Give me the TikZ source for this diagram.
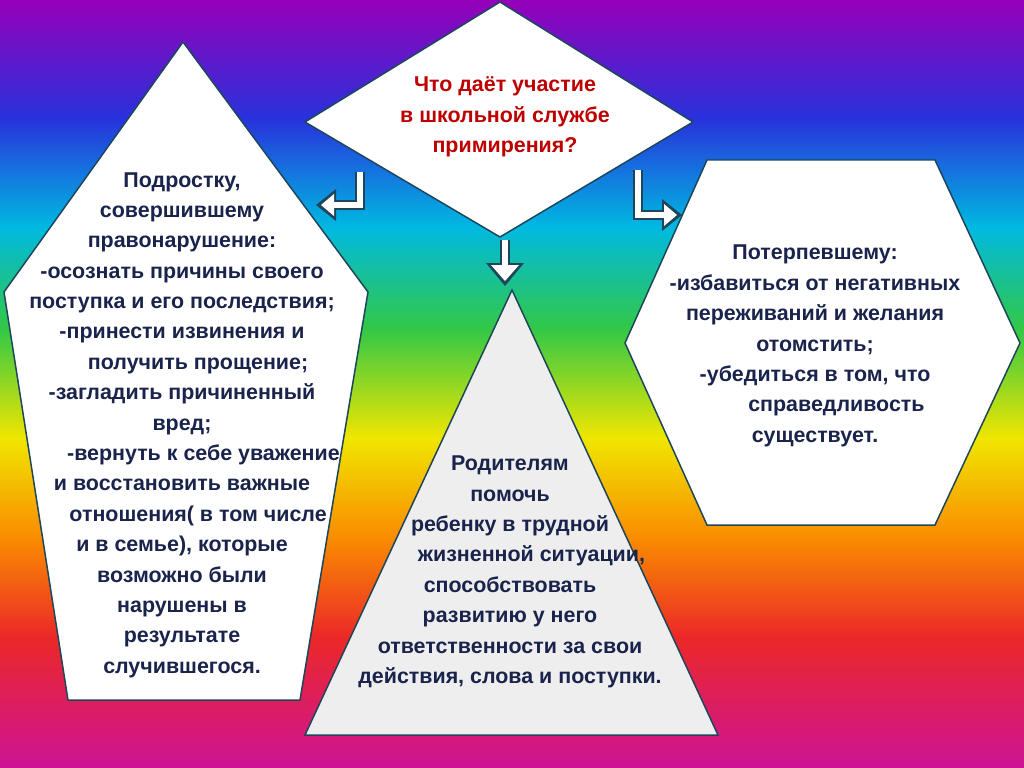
\documentclass[tikz,border=0pt]{standalone}
\usepackage{fontspec}
\setmainfont{Liberation Sans}
\definecolor{cA}{RGB}{150,0,185}
\definecolor{cB}{RGB}{40,50,220}
\definecolor{cC}{RGB}{0,185,225}
\definecolor{cD}{RGB}{50,200,70}
\definecolor{cE}{RGB}{240,230,0}
\definecolor{cF}{RGB}{250,140,0}
\definecolor{cG}{RGB}{235,40,40}
\definecolor{cH}{RGB}{205,20,150}
\definecolor{edge}{RGB}{30,70,90}
\definecolor{txt}{RGB}{25,35,75}
\definecolor{red1}{RGB}{190,0,0}
\pgfdeclareverticalshading{rainbow}{100bp}{color(0bp)=(cH); color(25bp)=(cH); color(33.5bp)=(cG); color(40bp)=(cF); color(46.5bp)=(cE); color(53.6bp)=(cD); color(60.2bp)=(cC); color(67.3bp)=(cB); color(75bp)=(cA); color(100bp)=(cA)}
\tikzset{shapebox/.style={draw=edge, line width=1.5pt, fill=white},
 label/.style={font=\bfseries\fontsize{21.5}{30.5}\selectfont, text=txt, align=center},
 arrowout/.style={draw=edge, line width=10pt},
 arrowin/.style={draw=white, line width=6pt}}
\begin{document}
\begin{tikzpicture}[x=1bp,y=-1bp]
\fill[shading=rainbow] (0,0) rectangle (1024,768);
\useasboundingbox (0,0) rectangle (1024,768);
% shapes
\draw[shapebox] (500,2) -- (693,122) -- (500,237) -- (305,122) -- cycle;
\draw[shapebox] (183,42) -- (368,292) -- (300,700) -- (68,700) -- (4,292) -- cycle;
\draw[shapebox, fill={rgb,255:red,238;green,238;blue,238}] (512,290) -- (718,735) -- (305,735) -- cycle;
\draw[shapebox] (707,160) -- (935,160) -- (1020,343) -- (935,525) -- (707,525) -- (625,343) -- cycle;
% arrows
\coordinate (la1) at (360,172); \coordinate (la2) at (360,205); \coordinate (la3) at (333,205);
\draw[arrowout] (la1) -- (la2) -- (la3);
\fill[edge] (316,205) -- (336,189) -- (336,221) -- cycle;
\draw[arrowin] (la1) -- (la2) -- (la3);
\fill[white] (321,205) -- (334,194) -- (334,216) -- cycle;
\coordinate (ra1) at (638,170); \coordinate (ra2) at (638,215); \coordinate (ra3) at (664,215);
\draw[arrowout] (ra1) -- (ra2) -- (ra3);
\fill[edge] (682,215) -- (662,199) -- (662,231) -- cycle;
\draw[arrowin] (ra1) -- (ra2) -- (ra3);
\fill[white] (677,215) -- (664,204) -- (664,226) -- cycle;
\coordinate (ma1) at (505,240); \coordinate (ma2) at (505,265);
\draw[arrowout] (ma1) -- (ma2);
\fill[edge] (505,286) -- (486,263) -- (524,263) -- cycle;
\draw[arrowin] (ma1) -- (ma2);
\fill[white] (505,281) -- (491,265) -- (519,265) -- cycle;
% texts
\node[label, text=red1] (q) at (505,117) {Что даёт участие\\в школьной службе\\примирения?};
\node[label] (l) at (182,425) {Подростку,\\совершившему\\правонарушение:\\-осознать причины своего\\поступка и его последствия;\\-принести извинения и\\\hspace{1.5em}получить прощение;\\-загладить причиненный\\вред;\\\hspace{2em}-вернуть к себе уважение\\и восстановить важные\\\hspace{1.5em}отношения( в том числе\\и в семье), которые\\возможно были\\нарушены в\\результате\\случившегося.};
\node[label] (m) at (510,572) {Родителям\\помочь\\ребенку в трудной\\\hspace{2em}жизненной ситуации,\\способствовать\\развитию у него\\ответственности за свои\\действия, слова и поступки.};
\node[label] (r) at (815,346) {Потерпевшему:\\-избавиться от негативных\\переживаний и желания\\отомстить;\\-убедиться в том, что\\\hspace{2em}справедливость\\существует.};
\end{tikzpicture}
\end{document}
